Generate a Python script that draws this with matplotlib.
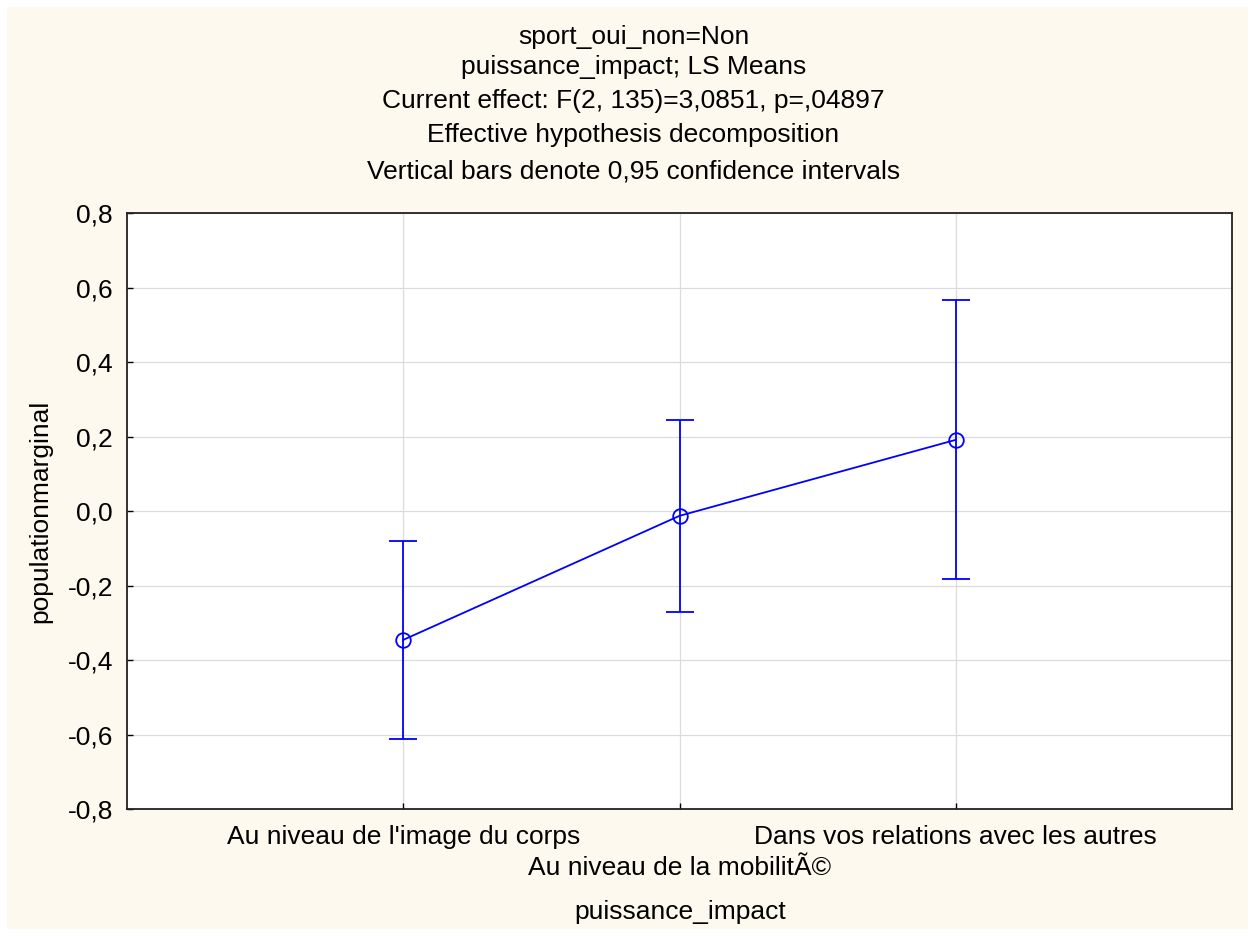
import matplotlib
matplotlib.use("Agg")
import matplotlib.pyplot as plt
from matplotlib.patches import Rectangle

plt.rcParams['font.family'] = ['Liberation Sans', 'DejaVu Sans']

categories = ["Au niveau de l'image du corps", "Au niveau de la mobilitÃ©", "Dans vos relations avec les autres"]
means = [-0.346, -0.013, 0.191]
upper = [-0.080, 0.244, 0.566]
lower = [-0.612, -0.271, -0.183]
title_lines = ["sport_oui_non=Non", "puissance_impact; LS Means",
               "Current effect: F(2, 135)=3,0851, p=,04897",
               "Effective hypothesis decomposition",
               "Vertical bars denote 0,95 confidence intervals"]
yticks = [-0.8, -0.6, -0.4, -0.2, 0.0, 0.2, 0.4, 0.6, 0.8]

W, H = 1255, 936
FS = 19
fig = plt.figure(figsize=(W / 100, H / 100), dpi=100, facecolor='white')
fig.patches.append(Rectangle((7 / W, 7 / H), (W - 14) / W, (H - 14) / H,
                             transform=fig.transFigure, facecolor='#fef9ee', edgecolor='none', zorder=-10))

ax = fig.add_axes([127 / W, 1 - 809 / H, (1232 - 127) / W, (809 - 213) / H])
ax.set_facecolor('white')
x = list(range(len(categories)))
err_lo = [m - l for m, l in zip(means, lower)]
err_hi = [u - m for m, u in zip(means, upper)]
ax.errorbar(x, means, yerr=[err_lo, err_hi], color='#0000ff', lw=1.3, marker='o', ms=10.5,
            mfc='none', mec='#0000ff', mew=1.3, capsize=10, capthick=1.3, zorder=3)

ax.set_xlim(-1, 3)
ax.set_ylim(-0.8, 0.8)
ax.set_yticks(yticks)
ax.set_yticklabels([("%.1f" % v).replace('.', ',') for v in yticks], fontsize=FS)
ax.set_xticks(x)
ax.set_xticklabels([])
ax.tick_params(direction='in', length=4, width=1, pad=10)
ax.grid(True, color='#dcdcdc', lw=0.9)
ax.set_axisbelow(True)
for s in ax.spines.values():
    s.set_linewidth(1.3)
    s.set_color('#222222')

# alternating category labels
for i, c in enumerate(categories):
    yoff = -28 if i % 2 == 0 else -59
    ax.annotate(c, xy=(i, -0.8), xycoords='data', xytext=(0, yoff), textcoords='offset pixels',
                ha='center', va='center', fontsize=FS)

for i, t in enumerate(title_lines):
    fig.text(0.5 + 6 / W, 1 - [37, 67, 101, 135, 172][i] / H, t, ha='center', va='center', fontsize=FS)

fig.text(680 / W, 1 - 912 / H, "puissance_impact", ha='center', va='center', fontsize=FS)
fig.text(40 / W, 1 - 511 / H, "populationmarginal", ha='center', va='center', rotation=90, fontsize=FS)

fig.savefig("out.png", dpi=100, facecolor=fig.get_facecolor())
